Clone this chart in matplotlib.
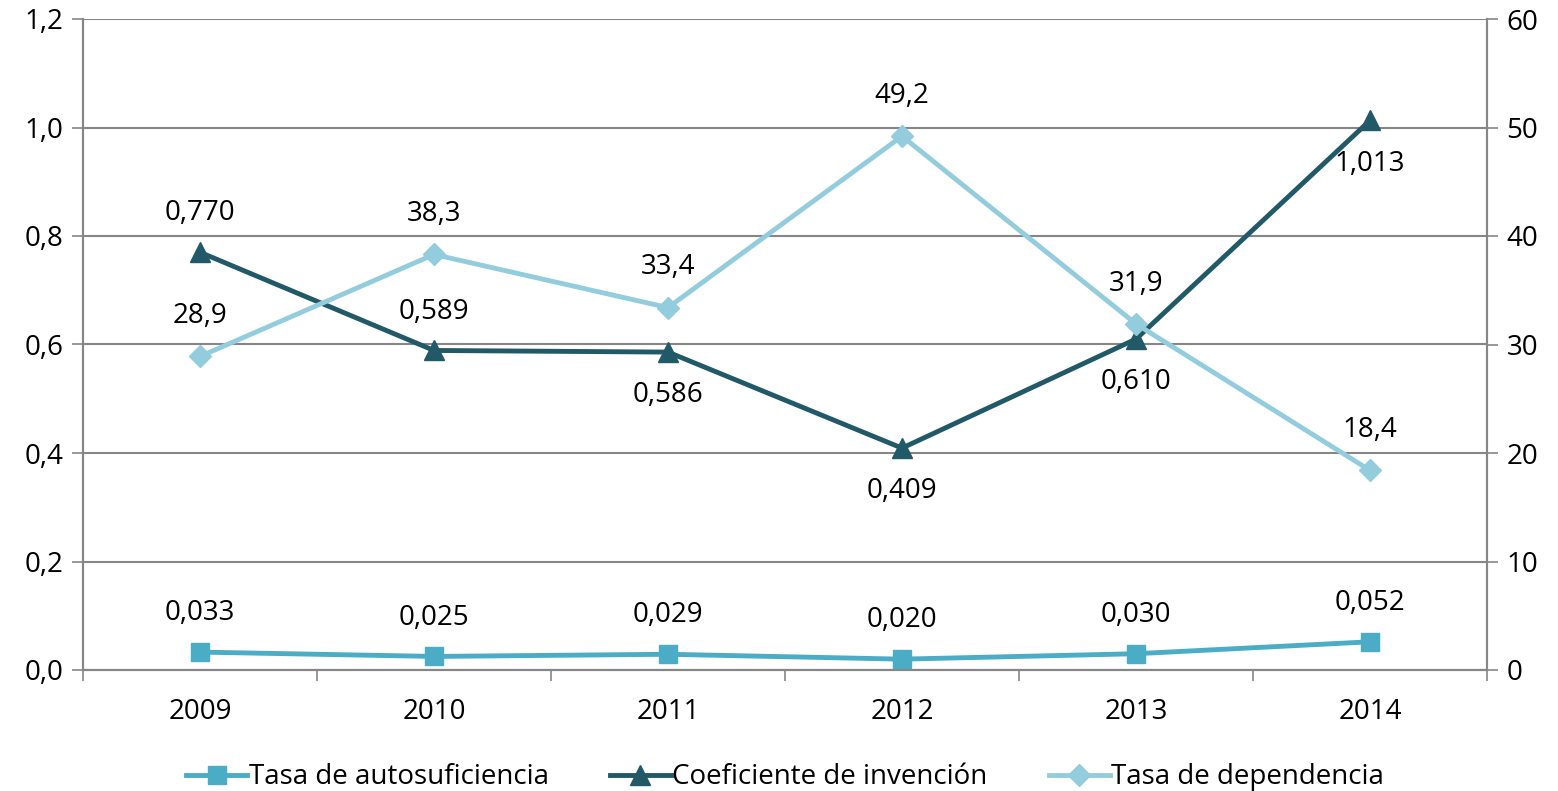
import numpy as np
import matplotlib.pyplot as plt
from matplotlib.ticker import FuncFormatter

plt.rcParams['font.family'] = ['Open Sans', 'DejaVu Sans']

years = ['2009', '2010', '2011', '2012', '2013', '2014']
autosuficiencia = [0.033, 0.025, 0.029, 0.020, 0.030, 0.052]
invencion = [0.770, 0.589, 0.586, 0.409, 0.610, 1.013]
dependencia = [28.9, 38.3, 33.4, 49.2, 31.9, 18.4]

# where the labels of the invention coefficient go (True = above the point)
invencion_arriba = [True, True, False, False, False, False]

c_auto = '#4BACC6'
c_inv = '#215968'
c_dep = '#93CDDD'
grid_c = '#868686'

fig = plt.figure(figsize=(15.58, 7.91), dpi=100)
ax = fig.add_axes([83 / 1558, 1 - 670 / 791, 1404 / 1558, 651 / 791])
ax2 = ax.twinx()

x = np.arange(len(years))

l1, = ax.plot(x, autosuficiencia, color=c_auto, lw=3.5, marker='s', ms=13, zorder=4)
l2, = ax.plot(x, invencion, color=c_inv, lw=3.5, marker='^', ms=15, zorder=4)
l3, = ax2.plot(x, dependencia, color=c_dep, lw=3.5, marker='D', ms=11, zorder=4)

fs = 20
comma = lambda v, d: f'{v:.{d}f}'.replace('.', ',')

for xi, v in zip(x, autosuficiencia):
    ax.annotate(comma(v, 3), (xi, v), xytext=(0, 28), textcoords='offset points',
                ha='center', va='center', fontsize=fs)
for xi, v, up in zip(x, invencion, invencion_arriba):
    ax.annotate(comma(v, 3), (xi, v), xytext=(0, 28 if up else -31), textcoords='offset points',
                ha='center', va='center', fontsize=fs)
for xi, v in zip(x, dependencia):
    ax2.annotate(comma(v, 1), (xi, v), xytext=(0, 29), textcoords='offset points',
                 ha='center', va='center', fontsize=fs)

ax.set_xlim(-0.5, len(years) - 0.5)
ax.set_ylim(0, 1.2)
ax2.set_ylim(0, 60)
ax.set_yticks(np.arange(0, 1.21, 0.2))
ax2.set_yticks(np.arange(0, 61, 10))
ax.yaxis.set_major_formatter(FuncFormatter(lambda v, p: comma(v, 1)))

ax.set_xticks(x)
ax.set_xticklabels(years)
ax.set_xticks(np.arange(-0.5, len(years), 1), minor=True)
ax.tick_params(axis='x', which='major', length=0, labelsize=fs, pad=20)
ax.tick_params(axis='x', which='minor', length=8, color=grid_c, width=1.2)
ax.tick_params(axis='y', length=8, color=grid_c, width=1.2, labelsize=fs, pad=6)
ax2.tick_params(axis='y', length=8, color=grid_c, width=1.2, labelsize=fs, pad=6)

ax.grid(axis='y', color=grid_c, lw=1.5)
ax.set_axisbelow(True)
for a in (ax, ax2):
    a.spines['top'].set_visible(False)
    for s in ('left', 'right', 'bottom'):
        a.spines[s].set_color(grid_c)
        a.spines[s].set_linewidth(1.5)

ax.legend([l1, l2, l3], ['Tasa de autosuficiencia', 'Coeficiente de invención', 'Tasa de dependencia'],
          loc='center', bbox_to_anchor=(0.5, -0.165), ncol=3, frameon=False, fontsize=fs,
          handlelength=2.2, handletextpad=0.05, columnspacing=2.2)

fig.savefig('out.png', dpi=100)
